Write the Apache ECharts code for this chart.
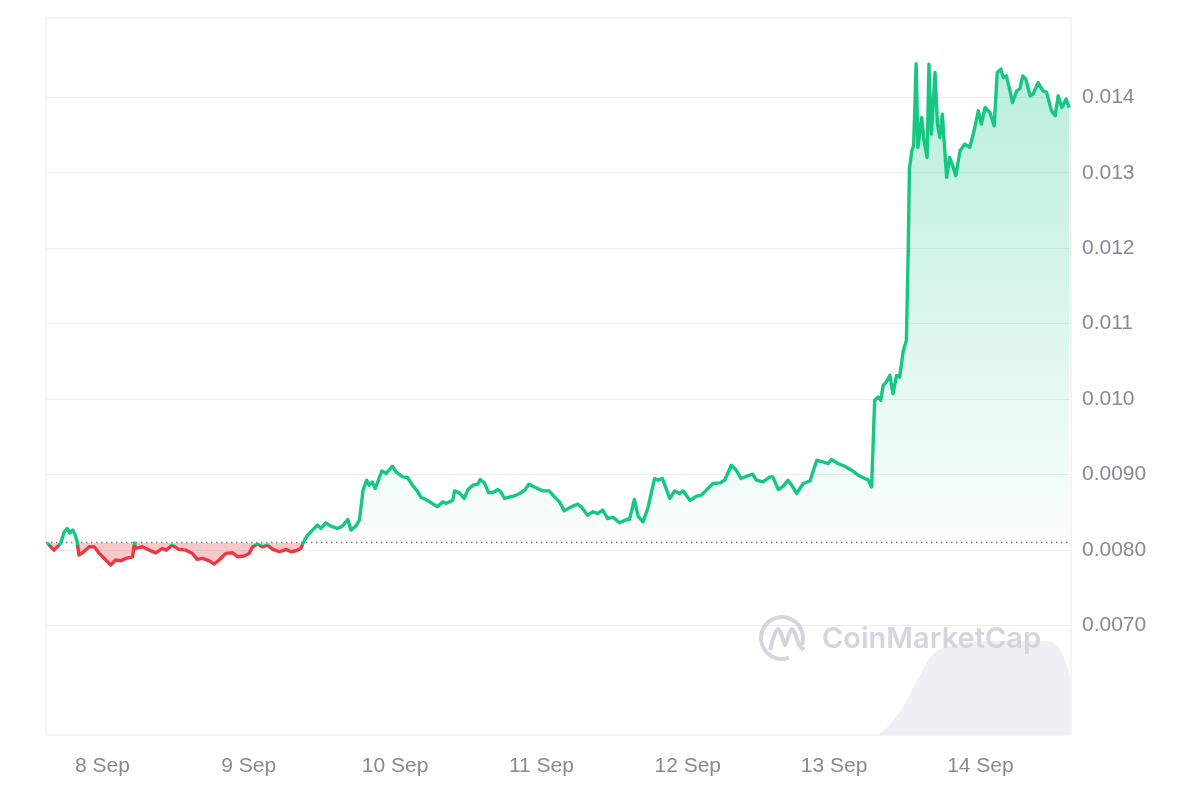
<!DOCTYPE html>
<html>
<head>
<meta charset="utf-8">
<script src="https://cdn.jsdelivr.net/npm/echarts@6/dist/echarts.min.js"></script>
<style>
html,body{margin:0;padding:0;background:#ffffff;}
#chart{width:1200px;height:800px;}
</style>
</head>
<body>
<div id="chart"></div>
<script>
// ---- data ----
// time of the chart's left edge (local time) and span in hours
const startTime = [2023, 8, 7, 14, 45];
const spanHours = 168.1;

// price: hours since start, price in USD
const priceHours = [
  0.2,1.3,2.4,3.0,3.5,3.9,4.4,4.8,5.1,5.4,6.2,7.1,7.9,8.7,9.8,10.6,11.4,12.3,13.1,14.2,
  14.5,14.7,15.8,16.9,18.0,19.1,19.7,20.7,21.8,22.9,24.0,24.8,25.7,26.8,27.6,28.4,29.5,30.6,31.4,32.5,
  33.3,33.9,34.7,35.5,36.3,37.2,38.3,39.4,40.2,41.0,41.8,42.4,
  42.9,43.7,44.5,45.1,45.9,46.7,47.8,48.6,49.5,50.0,50.8,51.4,52.0,52.6,53.0,53.5,54.0,54.6,55.1,55.8,
  56.8,57.4,58.5,59.3,60.1,61.0,61.5,62.3,63.2,64.2,65.1,65.6,66.7,67.0,67.8,68.6,69.2,70.0,70.8,71.2,
  71.9,72.6,73.5,74.1,74.6,75.2,76.6,77.7,78.5,79.2,80.1,81.5,82.5,83.4,84.2,85.0,86.1,87.2,87.8,88.8,
  89.7,90.5,91.3,92.1,93.0,94.1,95.2,95.7,96.5,97.1,97.9,98.7,99.8,100.4,101.1,101.5,102.3,103.1,103.9,104.5,
  105.6,106.7,107.5,108.3,109.4,110.5,111.3,112.4,113.2,114.0,114.9,115.9,116.5,117.6,118.7,119.2,120.1,120.9,121.7,122.3,
  123.1,124.2,125.3,126.4,127.4,128.3,128.8,129.9,131.0,132.1,133.2,134.3,134.8,135.4,
  135.9,136.5,136.9,137.3,137.8,138.4,138.9,139.5,140.0,140.6,141.1,141.4,141.6,142.0,142.3,142.7,143.0,143.6,144.0,144.5,
  144.8,145.2,145.8,146.2,146.6,147.0,147.7,148.2,148.8,149.2,149.9,150.7,151.5,152.2,152.9,153.4,154.0,154.8,155.5,156.0,
  156.6,157.0,157.5,158.1,158.5,159.2,159.7,160.2,160.7,161.4,161.9,162.7,163.5,164.1,164.9,165.5,166.0,166.6,167.3,167.8
];
const priceValues = [
  0.008095,0.008000,0.008089,0.008242,0.008287,0.008225,0.008265,0.008198,0.008110,0.007934,
  0.007978,0.008044,0.008044,0.007960,0.007868,0.007802,0.007868,0.007858,0.007890,0.007911,
  0.008095,0.008022,0.008044,0.008000,0.007964,0.008022,0.008000,0.008066,0.008009,0.008000,
  0.007956,0.007877,0.007890,0.007858,0.007815,0.007868,0.007956,0.007964,0.007911,0.007921,
  0.007956,0.008044,0.008079,0.008044,0.008066,0.008009,0.007978,0.008009,0.007978,0.007991,
  0.008022,0.008132,
  0.008198,0.008265,0.008331,0.008287,0.008361,0.008317,0.008287,0.008317,0.008406,0.008265,
  0.008317,0.008397,0.008794,0.008926,0.008860,0.008903,0.008816,0.008948,0.009049,0.009015,
  0.009111,0.009036,0.008970,0.008962,0.008860,0.008771,0.008697,0.008671,0.008626,0.008573,
  0.008639,0.008618,0.008661,0.008784,0.008758,0.008684,0.008803,0.008860,0.008873,0.008935,
  0.008890,0.008758,0.008771,0.008803,0.008771,0.008684,0.008714,0.008750,0.008794,0.008873,
  0.008837,0.008784,0.008784,0.008705,0.008639,0.008520,0.008573,0.008608,0.008573,0.008463,
  0.008507,0.008485,0.008529,0.008419,0.008433,0.008361,0.008406,0.008406,0.008671,0.008450,
  0.008374,0.008552,0.008948,0.008926,0.008948,0.008860,0.008684,0.008784,0.008750,0.008784,
  0.008661,0.008714,0.008728,0.008794,0.008882,0.008890,0.008926,0.009124,0.009058,0.008948,
  0.008979,0.009005,0.008926,0.008903,0.008970,0.008970,0.008803,0.008847,0.008926,0.008860,
  0.008750,0.008882,0.008917,0.009190,0.009168,0.009147,0.009200,0.009147,0.009111,0.009058,
  0.008992,0.008948,0.008935,0.008837,
  0.009984,0.010028,0.009984,0.010183,0.010226,0.010315,0.010073,0.010315,0.010292,0.010646,
  0.010778,0.011968,0.013049,0.013291,0.013357,0.014446,0.013335,0.013731,0.013423,0.013202,
  0.014438,0.013512,0.014327,0.013644,0.013467,0.013776,0.012938,0.013202,0.013070,0.012960,
  0.013291,0.013380,0.013335,0.013556,0.013820,0.013644,0.013864,0.013798,0.013622,0.014327,
  0.014372,0.014261,0.014283,0.014085,0.013930,0.014085,0.014111,0.014283,0.014239,0.014019,
  0.014045,0.014194,0.014085,0.014062,0.013820,0.013754,0.014019,0.013864,0.013975,0.013864
];
// opening price of the period (dotted reference line)
const openPrice = 0.0081;

// trading volume (arbitrary units on a hidden axis, max 100)
const volumeHours  = [0, 136.0, 137.8, 139.5, 141.0, 142.2, 143.6, 145.4, 147.7, 152.0, 156.4, 161.4, 164.6, 166.3, 167.9];
const volumeValues = [0, 0,     1.0,   2.6,   4.5,   6.6,   8.8,   11.2,  12.3,  13.0,  13.1,  13.1,  13.0,  11.9,  8.4];
const volumeAxisMax = 100;

// price axis
const priceTicks = [0.007, 0.008, 0.009, 0.010, 0.011, 0.012, 0.013, 0.014];
const priceAxisMin = 0.00555;
const priceAxisMax = 0.01505;

// ---- build ----
const HOUR = 3600 * 1000;
const t0 = new Date(startTime[0], startTime[1], startTime[2], startTime[3], startTime[4]).getTime();
const tEnd = t0 + spanHours * HOUR;
const priceData = priceHours.map((h, i) => [t0 + h * HOUR, priceValues[i]]);
const volumeData = volumeHours.map((h, i) => [t0 + h * HOUR, volumeValues[i]]);
const openLineData = [[t0, openPrice], [tEnd, openPrice]];

const GREEN = '#16c784', RED = '#ea3943';
const vMax = Math.max.apply(null, priceValues);
const vMin = Math.min.apply(null, priceValues);
// position of the opening price inside the line's vertical extent (0 = top)
const baseOff = (vMax - openPrice) / (vMax - vMin);

const labelColor = '#858a96';
const labelFont = 'Liberation Sans, Arial, sans-serif';

const chart = echarts.init(document.getElementById('chart'), null, {renderer: 'canvas'});
chart.setOption({
  animation: false,
  backgroundColor: '#ffffff',
  grid: {
    left: 46, right: 129, top: 18, bottom: 65,
    show: true, borderColor: '#e9e9e9', borderWidth: 1, backgroundColor: 'transparent'
  },
  xAxis: {
    type: 'time',
    min: t0,
    max: tEnd,
    minInterval: 24 * HOUR,
    maxInterval: 24 * HOUR,
    axisLine: {show: false},
    axisTick: {show: false},
    splitLine: {show: false},
    axisLabel: {
      formatter: '{d} {MMM}',
      color: labelColor, fontSize: 21, fontFamily: labelFont, margin: 21,
      hideOverlap: false
    }
  },
  yAxis: [{
    type: 'value',
    position: 'right',
    min: priceAxisMin,
    max: priceAxisMax,
    axisLine: {show: false},
    axisTick: {show: false, customValues: priceTicks},
    splitLine: {show: true, lineStyle: {color: '#efefef', width: 1}, customValues: priceTicks},
    axisLabel: {
      customValues: priceTicks,
      color: labelColor, fontSize: 21, fontFamily: labelFont, margin: 11,
      formatter: v => (v >= 0.00995 ? v.toFixed(3) : v.toFixed(4))
    }
  }, {
    type: 'value',
    min: 0, max: volumeAxisMax,
    show: false,
    splitLine: {show: false}
  }],
  series: [{
    type: 'line',
    name: 'Volume',
    yAxisIndex: 1,
    data: volumeData,
    smooth: 0.4,
    symbol: 'none',
    silent: true,
    lineStyle: {width: 0},
    itemStyle: {color: '#eef0f5'},
    areaStyle: {color: '#eef0f5', opacity: 1},
    z: 1
  }, {
    type: 'line',
    name: 'Open',
    yAxisIndex: 0,
    data: openLineData,
    symbol: 'none',
    silent: true,
    lineStyle: {color: '#7f7f7f', type: [1.5, 3.5], width: 1.4},
    z: 2
  }, {
    type: 'line',
    name: 'Price',
    yAxisIndex: 0,
    data: priceData,
    symbol: 'none',
    showSymbol: false,
    lineStyle: {
      width: 3.4, join: 'round',
      color: new echarts.graphic.LinearGradient(0, 0, 0, 1, [
        {offset: 0, color: GREEN},
        {offset: baseOff, color: GREEN},
        {offset: baseOff, color: RED},
        {offset: 1, color: RED}
      ])
    },
    areaStyle: {
      origin: openPrice,
      opacity: 1,
      color: new echarts.graphic.LinearGradient(0, 0, 0, 1, [
        {offset: 0, color: 'rgba(22,199,132,0.30)'},
        {offset: baseOff, color: 'rgba(22,199,132,0.02)'},
        {offset: baseOff, color: 'rgba(234,57,67,0.28)'},
        {offset: 1, color: 'rgba(234,57,67,0.28)'}
      ])
    },
    z: 3
  }],
  graphic: [{
    type: 'group',
    silent: true,
    z: 10,
    children: [{
      type: 'arc',
      z: 10,
      shape: {cx: 782, cy: 638, r: 21, startAngle: 70 * Math.PI / 180, endAngle: 380 * Math.PI / 180},
      style: {stroke: '#d3d6de', lineWidth: 4, fill: null}
    }, {
      type: 'polyline',
      z: 10,
      shape: {points: [[770, 650], [774, 636], [778, 629], [782, 636], [785, 645], [789, 634], [792, 629], [796, 636], [799, 645], [804, 650]], smooth: 0.3},
      style: {stroke: '#d3d6de', lineWidth: 4, fill: null}
    }, {
      type: 'text',
      z: 10,
      x: 822, y: 639,
      style: {
        text: 'CoinMarketCap', fill: '#d3d6de',
        font: '600 29px Inter, sans-serif',
        textVerticalAlign: 'middle'
      }
    }]
  }]
});
</script>
</body>
</html>
